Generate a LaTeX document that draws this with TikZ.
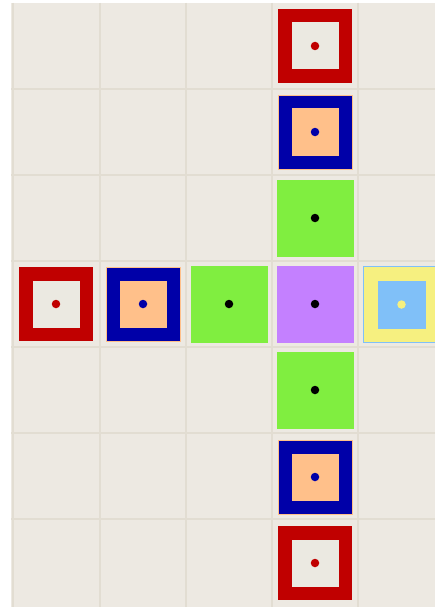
\documentclass[tikz,border=0pt]{standalone}
\definecolor{bgc}{HTML}{EDE9E2}
\definecolor{gridc}{HTML}{E2DDD2}
\definecolor{redc}{HTML}{C00000}
\definecolor{lightin}{HTML}{EBE9E1}
\definecolor{bluec}{HTML}{0000A8}
\definecolor{orangec}{HTML}{FFC08A}
\definecolor{greenc}{HTML}{80EE40}
\definecolor{purplec}{HTML}{C480FF}
\definecolor{yellowc}{HTML}{F6F080}
\definecolor{lbluec}{HTML}{80C0F8}
\definecolor{dotyellow}{HTML}{F6F080}
\tikzset{
  outer/.style={rectangle, inner sep=0pt, minimum size=74pt, fill=#1},
  innersq/.style={rectangle, inner sep=0pt, minimum size=47pt, fill=#1},
  fullsq/.style={rectangle, inner sep=0pt, minimum size=77pt, fill=#1},
  dotc/.style={circle, inner sep=0pt, minimum size=8.5pt, fill=#1},
  gridline/.style={draw=gridc, line width=1.6pt}
}
\begin{document}
\begin{tikzpicture}[x=1pt,y=-1pt]
\useasboundingbox (0,0) rectangle (435,607);
\fill[white] (0,0) rectangle (435,607);
\fill[bgc] (11,3) rectangle (435,607);
% grid
\foreach \gx in {13,100,186,272,358} {\draw[gridline] (\gx,3) -- (\gx,607);}
\foreach \gy in {89,175,261,347,433,519} {\draw[gridline] (11,\gy) -- (435,\gy);}
% vertical arm (x = 315)
\node[outer=redc] (v0o) at (315,46) {};
\node[innersq=lightin] (v0i) at (315,46) {};
\node[dotc=redc] (v0d) at (315,46) {};
\node[outer=bluec, draw=orangec, line width=0.8pt] (v1o) at (315,132) {};
\node[innersq=orangec] (v1i) at (315,132) {};
\node[dotc=bluec] (v1d) at (315,132) {};
\node[fullsq=greenc] (v2o) at (315,218) {};
\node[dotc=black] (v2d) at (315,218) {};
\node[fullsq=purplec] (c0) at (315,304) {};
\node[dotc=black] (cd) at (315,304) {};
\node[fullsq=greenc] (v4o) at (315,390) {};
\node[dotc=black] (v4d) at (315,390) {};
\node[outer=bluec, draw=orangec, line width=0.8pt] (v5o) at (315,477) {};
\node[innersq=orangec] (v5i) at (315,477) {};
\node[dotc=bluec] (v5d) at (315,477) {};
\node[outer=redc] (v6o) at (315,563) {};
\node[innersq=lightin] (v6i) at (315,563) {};
\node[dotc=redc] (v6d) at (315,563) {};
% horizontal arm (y = 304)
\node[outer=redc] (h0o) at (56,304) {};
\node[innersq=lightin] (h0i) at (56,304) {};
\node[dotc=redc] (h0d) at (56,304) {};
\node[outer=bluec, draw=orangec, line width=0.8pt] (h1o) at (143,304) {};
\node[innersq=orangec] (h1i) at (143,304) {};
\node[dotc=bluec] (h1d) at (143,304) {};
\node[fullsq=greenc] (h2o) at (229,304) {};
\node[dotc=black] (h2d) at (229,304) {};
\node[fullsq=yellowc, draw=lbluec, line width=1pt, minimum size=76pt] (h4o) at (401.5,304.5) {};
\node[innersq=lbluec, minimum size=48pt] (h4i) at (401.5,304.5) {};
\node[dotc=dotyellow] (h4d) at (401.5,304.5) {};
\end{tikzpicture}
\end{document}
